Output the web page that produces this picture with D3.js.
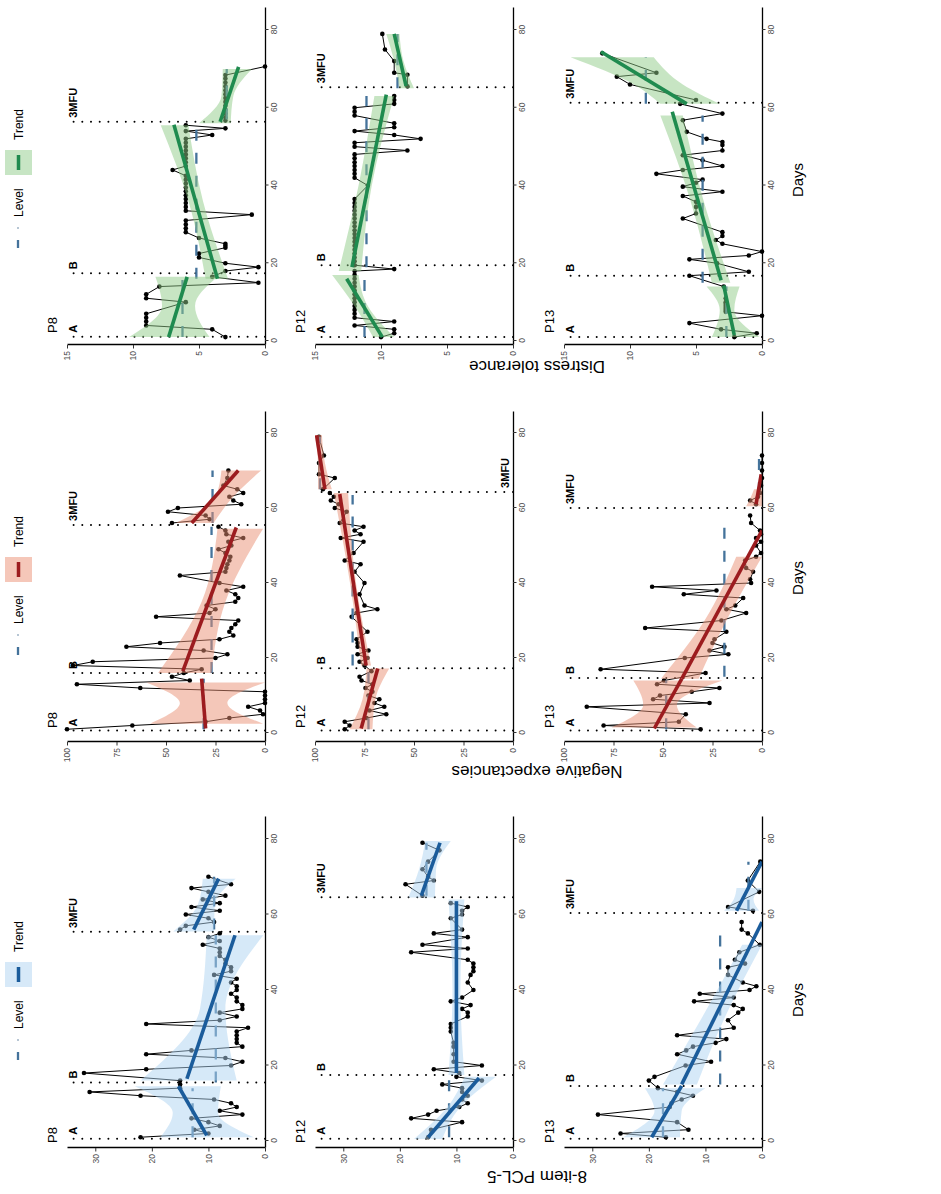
<!DOCTYPE html>
<html><head><meta charset="utf-8">
<script src="https://cdnjs.cloudflare.com/ajax/libs/d3/7.8.5/d3.min.js"></script>
<style>body{margin:0;background:#fff}svg{display:block}text{font-family:"Liberation Sans",Arial,sans-serif}</style>
</head><body><svg id="c" width="941" height="1194"></svg>
<script>
// ---------------- DATA ----------------
const measureNames = ["8-item PCL-5", "Negative expectancies", "Distress tolerance"];
const participants = ["P8", "P12", "P13"];
const phaseNames = ["A", "B", "3MFU"];
const dayTicks = [0, 20, 40, 60, 80];
const pclTicks = [0, 10, 20, 30];
const negTicks = [0, 25, 50, 75, 100];
const dtTicks = [0, 5, 10, 15];
const legendLabels = ["Level", "Trend"];

// PCL-5
const pcl_P8_points = [[1,22],[2,10],[3,12.5],[4,8],[5,10],[6,13],[7,4],[8,8],[9,5],[10,6],[11,9],[12,22],[13,31],[14,15],[15,15],[16,15],[18,32],[19,21],[20,6],[21,4],[22,7],[23,21],[24,13],[25,4],[26,5],[27,5],[28,5],[29,5],[30,3],[31,21],[32,8],[33,5],[34,8],[35,4],[36,4],[37,5],[38,5],[39,6],[40,5],[41,5],[42,6],[43,5],[44,9],[45,6],[46,6],[47,7],[48,7],[49,8],[50,8],[51,8],[52,11],[53,8],[54,10],[55,8],[56,15],[57,14],[58,9],[59,10],[60,14],[61,8],[62,13],[63,8],[64,11],[65,7],[66,10],[67,13],[68,6],[70,10]];
const pcl_P8_phases = [0.6, 15.5, 55.4];
const pcl_P8_trend = [[1.5,10.3,14.5,15.3],[16.5,13.8,54.5,5.3],[56,12.6,69.5,8.2]];
const pcl_P8_level = [[1,14,12.8],[15.5,54.5,8.7],[56,70,9]];
const pcl_P8_ribbon = [[[1,2,18.5],[7.5,8.3,16.3],[14.5,7.8,23]],[[16,5,22],[35,7,11.5],[54.5,0.3,10.3]],[[55.5,9,16.2],[62.5,8.9,11.9],[69.5,5.2,11]]];

const pcl_P12_points = [[1,15],[3,14.5],[5,9],[6,18],[7,15],[8,13.5],[9,9.5],[10,8],[11,9],[12,8],[13,9],[14,9],[15,12.5],[16,5.5],[17,10],[18,9.5],[19,14],[20,5.5],[21,10.5],[23,10.5],[25,10.5],[26,10.5],[29,11],[30,11],[31,11],[33,8],[34,8],[35,9],[36,7.5],[37,11],[38,9],[40,7],[42,8],[44,7.5],[45,7],[46,7],[47,7],[48,8],[50,18],[51,8],[52,16],[54,8],[55,14],[56,9],[59,11],[60,9],[61,9],[62,8],[63,11],[65,16],[68,19],[69,14],[70,15],[72,16],[74,15],[77,13],[79,16]];
const pcl_P12_phases = [0.6, 17.5, 64.6];
const pcl_P12_trend = [[1,15,16.7,6],[18,10,63.5,10],[65,16.2,79,12.9]];
const pcl_P12_level = [[1,16.5,11.3],[18,63.5,10],[65,79,15.3]];
const pcl_P12_ribbon = [[[0.5,12.5,17.5],[9,9.3,11.6],[17,3,8.5]],[[17.5,8.6,11.4],[40,9.3,10.7],[64,8.6,11.4]],[[64.5,13.8,18.5],[72,13.6,16.6],[79.5,11,15.5]]];

const pcl_P13_points = [[1,17],[2,25],[3,13],[5,15],[7,29],[9,16.3],[10,16],[11,14.2],[12,12.2],[13,15],[14,18.4],[16,20],[17,19],[20,13.5],[21,9],[23,15],[24,13.4],[25,12.2],[26,8.2],[27,6.3],[28,15],[30,5],[32,6],[34,4.2],[35,3.4],[36,5],[37,12],[38,5],[39,11],[40,2.2],[41,1],[42,3.4],[44,6],[46,6],[47,3],[48,4.8],[50,4],[52,0.4],[55,2.5],[56,3.6],[58,3.6],[61,1.6],[62,6],[66,0.5],[69,2.5],[74,0.3]];
const pcl_P13_phases = [0.6, 14.6, 60.4];
const pcl_P13_trend = [[1,19.5,14.6,14.2],[15,14.2,58,0],[61,4.5,74,0]];
const pcl_P13_level = [[1,14,17.5],[15,57.5,7.4],[61,74,2.4]];
const pcl_P13_ribbon = [[[1,14.5,24.5],[8,14.2,19],[14,10,20.7]],[[15,11.5,17.5],[33,6.5,10.5],[52,0,3.5]],[[61,0.5,6.7],[64,1.5,5],[67,0,4.5]]];

// Negative expectancies
const neg_P8_points = [[1,100],[2,67],[3,30],[4,18],[5,1],[6,2.5],[7,8.5],[8,0],[9,0],[10,0],[11,0],[12,63],[13,95],[14,38],[15,47],[16,41],[17,32],[18,97],[19,87],[20,25],[21,19],[22,31],[23,70],[24,53],[25,23],[26,16],[27,18],[28,17],[29,15],[30,13.5],[31,55],[32,28],[33,25],[34,29.5],[35,15],[36,13.5],[37,15],[38,19.5],[39,11],[40,23],[42,43],[43,20],[44,19.5],[45,19],[46,18],[47,17.5],[48,20],[49,23.5],[50,17],[51,18.5],[52,11],[53,19.5],[54,20],[55,23.5],[56,47],[57,28],[58,30],[59,49],[60,44],[61,12],[62,16],[63,18],[64,11],[65,14],[66,21],[68,19],[70,18.5]];
const neg_P8_phases = [0.7, 16, 55.5];
const neg_P8_trend = [[1.2,30,14.5,32],[16.5,41.5,54.8,14.5],[56,37,70,13.5]];
const neg_P8_level = [[1,14.5,31],[16,55,27],[56,70,26.5]];
const neg_P8_ribbon = [[[2.5,1,58],[8,19,43],[13.5,0,60]],[[16,27,54],[35,20,32],[54.5,1,24]],[[56,26,45],[63,16,25],[70,2,22]]];

const neg_P12_points = [[1,85],[2,82.5],[3,85],[4,74],[5,64],[6,72.5],[7,65],[8,70],[9,67.5],[10,73],[11,71],[12,74.5],[13,71],[14,76.5],[15,77.5],[16.5,71.5],[18,75],[19,77.5],[20,73.5],[21,78.5],[22,73],[23,78.5],[24,78.5],[25,79],[27,73.5],[31,81.5],[32,79],[33,68.5],[34,75],[37,77.5],[40,75],[43,80],[45,77],[46,85],[48,80.5],[51,75.5],[52,87],[53,77],[54,80],[55,75.5],[56,87.5],[59,84],[60,90],[61,88],[62,92],[63,90.5],[64,92.5],[65,96],[68,90],[69,98],[72,98],[74,95.5],[79,98]];
const neg_P12_phases = [0.7, 17.3, 64.3];
const neg_P12_trend = [[1.2,76.7,17.2,68.3],[18,74.2,63.7,87.5],[65,95,79.4,99.2]];
const neg_P12_level = [[1,17,73],[18,63.5,81],[65,79,97.5]];
const neg_P12_ribbon = [[[1,71,82.5],[9,69.5,76],[17.2,62.5,74]],[[18,71.7,76.7],[40,79.3,82.3],[64,83.3,90.5]],[[65,91.5,98.5],[72,95,98.5],[79.5,96.5,100]]];

const neg_P13_points = [[1,31],[2,80],[3,42],[5,38.5],[7,88.5],[8,26.5],[9,55],[10,51.5],[11,35.5],[12,21.5],[13,53],[14,49.5],[16,28.5],[17,81.5],[20,39],[21,17],[22,26.5],[23,19],[24,25],[25,24],[27,18],[28,59],[30,20.5],[32,8],[33,18],[34,13.5],[36,9.5],[37,39.5],[38,23],[39,55.5],[40,5.5],[41,6],[43,4.5],[44,8],[46,8.5],[47,3],[48,0.5],[50,3],[51,0.5],[52,3],[53,0.5],[54,1],[56,5.5],[58,6],[61,3],[62,6],[63,2],[64,1],[66,0.5],[68,0],[70,0],[72,0],[74,0]];
const neg_P13_phases = [0.7, 14.7, 60];
const neg_P13_trend = [[1.2,54.4,14.5,40.5],[14.5,40.5,54,0],[61,3,69,0.4]];
const neg_P13_level = [[1,14,48.4],[15,57,19],[64,74,1.5]];
const neg_P13_ribbon = [[[1.5,33,76],[7.5,43,60],[14,20,65]],[[14.5,32,51],[30,18,29],[47,0,13]],[[60.5,0,8],[62.5,0,6],[65,0,4]]];

// Distress tolerance
const dt_P8_points = [[1,3],[3,4],[4,9],[5,9],[6,9],[7,9],[10,6],[11,9],[12,9],[14,8],[15,0.5],[16.5,4],[18,3],[19,0.5],[20,3],[21.5,5],[22.5,5],[24,3],[24.5,3],[25,3],[26.5,5],[28,6],[29,6],[30,6],[31,6],[32.5,1],[33.5,6],[34.5,6],[35.5,6],[36.5,6],[37.5,6],[38.5,6],[39.5,6],[40.5,6],[41.5,6],[42.5,6],[44,7],[45,6],[46,6],[47,6],[48,6],[49,6],[50,6],[51,6],[52,6],[53,4],[54,6],[54.7,3],[55.5,6],[56.7,3],[57.5,3],[58.5,3],[59.5,3],[60.5,3],[61.5,3],[62.5,3],[63.5,3],[64.5,3],[65.5,3],[66.5,3],[67.5,3],[68.4,3],[70.6,0]];
const dt_P8_phases = [1.1, 17.4, 56.4];
const dt_P8_trend = [[1,7.3,16.5,5.9],[16,3.6,55.6,6.9],[56.4,3.4,70.5,2]];
const dt_P8_level = [[1,16.5,6.25],[16,55,5.2],[57,70,2.9]];
const dt_P8_ribbon = [[[1,4.2,10.3],[9,5.3,7.8],[16.5,3.6,8.3]],[[16,2.8,4.5],[36,4.7,5.8],[55.5,5.8,7.9]],[[56,2.6,5],[63,2.4,3.3],[70,1,3.2]]];

const dt_P12_points = [[1,10],[2,9],[3,9],[4,12],[5,9],[6,12],[7,12],[8,12],[9,12],[10,12],[11,12],[12,12],[13,12],[14,12],[15,12],[16,12],[17,12],[18,12],[18.5,9],[19.5,12],[20.5,12],[21.5,12],[22.5,12],[23.5,12],[24.5,12],[25.5,12],[26.5,12],[27.5,12],[28.5,12],[29.5,12],[30.5,12],[31.5,12],[32.5,12],[33.5,12],[34.5,12],[35.5,12],[36.5,12],[40,11],[42,12],[43,12],[44,12],[45,12],[46,12],[47,12],[48,12],[49,8],[50,12],[51,12],[52,7],[53,9],[54,12],[55,9],[56,9],[58,12],[59,12],[60,12],[61,9],[62,9],[63,9],[65.5,8],[68.5,8],[69,9],[72,9],[75,9.7],[79,9.9]];
const dt_P12_phases = [1, 19.5, 65.3];
const dt_P12_trend = [[1,9.9,16,12.6],[19,12.2,63.4,9.6],[65.6,8.1,79,9]];
const dt_P12_level = [[1,17,11.25],[19,63,11.1],[65,79,8.75]];
const dt_P12_ribbon = [[[1,9,10.6],[9,11,12],[17,11.7,13.7]],[[18,11.5,13.2],[40,10.7,11.7],[63,9,10.5]],[[65,7.5,8.6],[72,8.3,9],[79,8.6,9.6]]];

const dt_P13_points = [[1,2.1],[2,0.4],[3,3.1],[4.6,5.5],[6.5,0],[7.5,2.75],[8,2.75],[8.5,2.75],[9,2.75],[9.5,2.75],[10,2.75],[11,2.75],[14,2.9],[16.8,5.5],[17.8,1],[20,3.4],[21,5.5],[22,1],[23,0],[25,3],[26,3.5],[27,3],[28,3],[31.5,6],[32.8,5],[34.5,5],[35.8,5],[37.3,6],[38.4,3],[39.7,6],[40.7,5],[41.5,4.5],[43,8],[44,6],[45,3],[46.5,4.5],[47.8,6],[49,3],[50.4,3],[51.2,3],[52,4.2],[53.8,5.7],[56.8,6],[58.5,3],[61,6.2],[62,5],[66,10],[68,11],[69,8],[74,12.1]];
const dt_P13_phases = [1, 16.8, 61.3];
const dt_P13_trend = [[1.5,2.1,14.3,2.9],[15.6,3.1,59,6.8],[61,5.7,74.4,12.2]];
const dt_P13_level = [[1,14,2.7],[15,58,4.5],[61,73,8.8]];
const dt_P13_ribbon = [[[1,0.2,3.8],[8,2.1,3.2],[14,1.7,4.2]],[[15,2.4,3.8],[37,4.5,5.5],[58,6,7.7]],[[61,3.2,7.7],[66,6,9.7],[73,8.2,14.5]]];

// ---------------- LAYOUT / STYLE ----------------
// Figure drawn in an unrotated 1194 x 941 frame, then rotated -90deg onto the page.
const cols = [
  {day0:53, day80:355, axisStart:46, axisEnd:377, max:35, ticks:pclTicks, titleU:19, daysU:194, legU:134,
   trend:"#1b5c9b", ribFill:"#aed3f1", ribKey:"#d7e9f8"},
  {day0:461, day80:761, axisStart:452, axisEnd:782, max:100, ticks:negTicks, titleU:424, daysU:616, legU:539,
   trend:"#9c1c1f", ribFill:"#ea8f73", ribKey:"#f5c7b9"},
  {day0:853, day80:1164, axisStart:849, axisEnd:1186, max:15, ticks:dtTicks, titleU:829, daysU:1014, legU:946,
   trend:"#1f8b4f", ribFill:"#8fcb88", ribKey:"#c7e5c4"}
];
const rows = [{v0:265}, {v0:513}, {v0:762}];
const plotH = 198;
const levelColor = "#45739b";
const yTitleCenter = 537;

const panelData = [
  [pcl_P8_points, pcl_P8_phases, pcl_P8_trend, pcl_P8_level, pcl_P8_ribbon],
  [pcl_P12_points, pcl_P12_phases, pcl_P12_trend, pcl_P12_level, pcl_P12_ribbon],
  [pcl_P13_points, pcl_P13_phases, pcl_P13_trend, pcl_P13_level, pcl_P13_ribbon],
  [neg_P8_points, neg_P8_phases, neg_P8_trend, neg_P8_level, neg_P8_ribbon],
  [neg_P12_points, neg_P12_phases, neg_P12_trend, neg_P12_level, neg_P12_ribbon],
  [neg_P13_points, neg_P13_phases, neg_P13_trend, neg_P13_level, neg_P13_ribbon],
  [dt_P8_points, dt_P8_phases, dt_P8_trend, dt_P8_level, dt_P8_ribbon],
  [dt_P12_points, dt_P12_phases, dt_P12_trend, dt_P12_level, dt_P12_ribbon],
  [dt_P13_points, dt_P13_phases, dt_P13_trend, dt_P13_level, dt_P13_ribbon]
];
const titleOffsets = [[51,51,51],[466,466,466],[861,861,861]];

const svg = d3.select("#c");
const root = svg.append("g").attr("transform", "translate(0,1194) rotate(-90)");
const defs = svg.append("defs");

panelData.forEach((pd, i) => {
  const ci = Math.floor(i / 3), ri = i % 3;
  const C = cols[ci], R = rows[ri];
  const [pts, phases, trend, level, ribbon] = pd;
  const x = d3.scaleLinear().domain([0, 80]).range([C.day0, C.day80]);
  const y = d3.scaleLinear().domain([0, C.max]).range([R.v0, R.v0 - plotH]);
  const g = root.append("g");
  const clipId = "clip" + i;
  defs.append("clipPath").attr("id", clipId).append("rect")
    .attr("x", C.axisStart).attr("y", R.v0 - plotH).attr("width", C.axisEnd - C.axisStart).attr("height", plotH);

  phases.forEach((d, k) => {
    g.append("line").attr("x1", x(d)).attr("x2", x(d)).attr("y1", R.v0).attr("y2", R.v0 - plotH)
      .attr("stroke", "#000").attr("stroke-width", 2).attr("stroke-linecap", "round").attr("stroke-dasharray", "0,8.7");
    const bottom = (ci === 1 && ri === 1 && k === 2);
    g.append("text").attr("x", x(d) + 4).attr("y", bottom ? R.v0 - 4 : R.v0 - plotH + 10)
      .attr("font-size", 11).attr("font-weight", "bold").text(phaseNames[k]);
  });

  const segs = [pts.filter(p => p[0] < phases[2]), pts.filter(p => p[0] >= phases[2])];
  const line = d3.line().x(d => x(d[0])).y(d => y(d[1]));
  segs.forEach(s => g.append("path").attr("d", line(s)).attr("fill", "none").attr("stroke", "#000").attr("stroke-width", 1));
  g.selectAll("circle.pt").data(pts).join("circle").attr("class", "pt")
    .attr("cx", d => x(d[0])).attr("cy", d => y(d[1])).attr("r", 2.3).attr("fill", "#000");

  level.forEach(l => g.append("line").attr("x1", x(l[0])).attr("x2", x(l[1])).attr("y1", y(l[2])).attr("y2", y(l[2]))
    .attr("stroke", levelColor).attr("stroke-width", 2.3).attr("stroke-dasharray", "11,12"));

  const area = d3.area().x(d => x(d[0])).y0(d => y(d[1])).y1(d => y(d[2])).curve(d3.curveMonotoneX);
  ribbon.forEach(r => g.append("path").attr("d", area(r)).attr("fill", C.ribFill).attr("fill-opacity", 0.5)
    .attr("clip-path", `url(#${clipId})`));

  trend.forEach(t => g.append("line").attr("x1", x(t[0])).attr("y1", y(t[1])).attr("x2", x(t[2])).attr("y2", y(t[3]))
    .attr("stroke", C.trend).attr("stroke-width", 3.6).attr("clip-path", `url(#${clipId})`));

  const xa = x.copy().domain([x.invert(C.axisStart), x.invert(C.axisEnd)]).range([C.axisStart, C.axisEnd]);
  const ax = g.append("g").attr("transform", `translate(0,${R.v0})`)
    .call(d3.axisBottom(xa).tickValues(dayTicks).tickSize(3.5).tickSizeOuter(0).tickPadding(2.5));
  const ay = g.append("g").attr("transform", `translate(${C.axisStart},0)`)
    .call(d3.axisLeft(y).tickValues(C.ticks).tickSize(3.5).tickSizeOuter(0).tickPadding(2.5));
  [ax, ay].forEach(a => {
    a.select(".domain").attr("stroke", "#000").attr("stroke-width", 1.3);
    a.selectAll(".tick line").attr("stroke", "#333");
    a.selectAll(".tick text").attr("font-size", 8.5).attr("fill", "#4d4d4d").attr("font-family", "Liberation Sans, Arial, sans-serif");
  });

  g.append("text").attr("x", titleOffsets[ci][ri]).attr("y", R.v0 - plotH - 10).attr("font-size", 13).text(participants[ri]);
});

cols.forEach((C, ci) => {
  root.append("text").attr("transform", `translate(${C.titleU},${yTitleCenter}) rotate(-90)`)
    .attr("text-anchor", "middle").attr("font-size", 17).attr("dominant-baseline", "middle").text(measureNames[ci]);
  root.append("text").attr("x", C.daysU).attr("y", 803).attr("text-anchor", "middle").attr("font-size", 15).text("Days");
  const L = root.append("g").attr("transform", `translate(${C.legU},0)`);
  L.append("line").attr("x1", 0).attr("x2", 8).attr("y1", 18).attr("y2", 18).attr("stroke", levelColor).attr("stroke-width", 2.3);
  L.append("line").attr("x1", 19).attr("x2", 21).attr("y1", 18).attr("y2", 18).attr("stroke", "#9fb3c6").attr("stroke-width", 1.5);
  L.append("text").attr("x", 31).attr("y", 23).attr("font-size", 12).text(legendLabels[0]);
  L.append("rect").attr("x", 73).attr("y", 5).attr("width", 25).attr("height", 27).attr("fill", C.ribKey);
  L.append("line").attr("x1", 78).attr("x2", 93).attr("y1", 18.5).attr("y2", 18.5).attr("stroke", C.trend).attr("stroke-width", 3.5);
  L.append("text").attr("x", 108).attr("y", 23).attr("font-size", 12).text(legendLabels[1]);
});
</script></body></html>
